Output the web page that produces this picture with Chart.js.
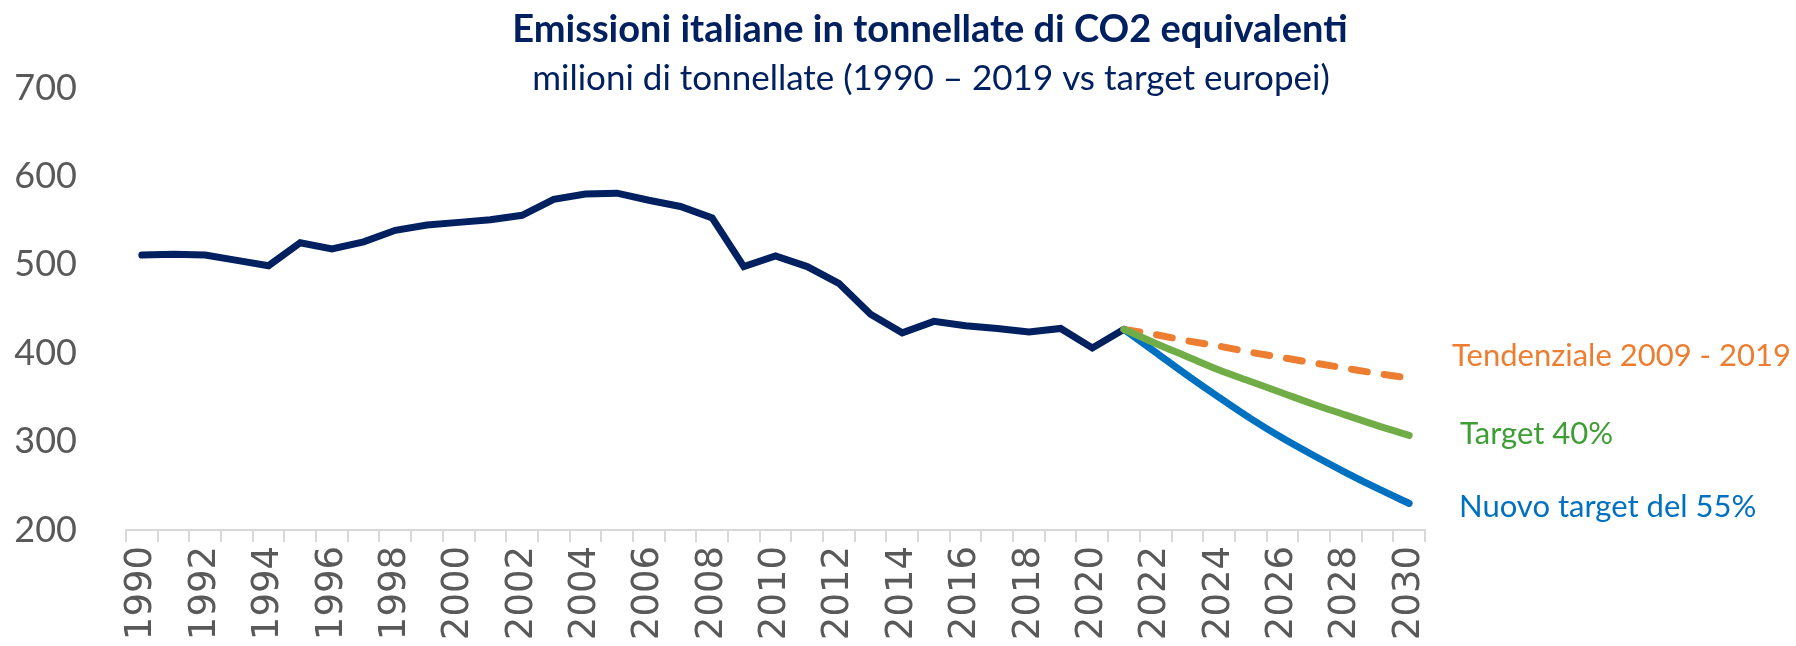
<!DOCTYPE html>
<html>
<head>
<meta charset="utf-8">
<script src="https://cdn.jsdelivr.net/npm/chart.js@4.4.1/dist/chart.umd.min.js"></script>
<style>
  html, body { margin: 0; padding: 0; background: #fff; }
  #wrap { width: 1796px; height: 646px; }
</style>
</head>
<body>
<div id="wrap"><canvas id="emissioni" width="1796" height="646"></canvas></div>
<script>
    // --- DATA ---
    const years = [];
    for (let y = 1990; y <= 2030; y++) years.push(String(y));

    // storico 1990 - 2021
    const storico = [511, 512, 511, 505, 499, 525, 518, 526, 539, 545, 548, 551, 556, 574, 580, 581,
                     573, 566, 553, 498, 510, 498, 479, 444, 423, 436, 431, 428, 424, 428, 406, 427];
    // proiezioni 2021 - 2030
    const tendenziale = [427, 421, 414, 408, 401, 395, 389, 383, 377, 372];
    const target40 = [427, 411, 396, 381, 368, 355, 342, 330, 318, 307];
    const target55 = [427, 401, 375, 350, 326, 304, 284, 265, 247, 230];
    const yTicks = [200, 300, 400, 500, 600, 700];

    const pad = (arr, start) => Array(start).fill(null).concat(arr);
    const startProj = years.indexOf('2021');

    const NAVY = '#002060';
    const GREY = '#595959';

    // --- TESTI (titolo + etichette serie) ---
    const textPlugin = {
        id: 'testi',
        afterDraw(chart) {
            const c = chart.ctx;
            c.save();
            c.textBaseline = 'middle';
            c.textAlign = 'center';
            c.fillStyle = NAVY;
            c.font = 'bold 38px Lato';
            c.fillText('Emissioni italiane in tonnellate di CO2 equivalenti', 930, 30);
            c.font = '35px Lato';
            c.fillText('milioni di tonnellate (1990 \u2013 2019 vs target europei)', 931, 79);

            c.textAlign = 'left';
            c.font = '31px Lato';
            c.fillStyle = '#ED7D31';
            c.fillText('Tendenziale 2009 - 2019', 1452, 356);
            c.fillStyle = '#3E9E35';
            c.fillText('Target 40%', 1460, 434);
            c.fillStyle = '#0070C0';
            c.fillText('Nuovo target del 55%', 1459, 507);
            c.restore();
        }
    };

    const ctx = document.getElementById('emissioni').getContext('2d');
    const chart = new Chart(ctx, {
        type: 'line',
        data: {
            labels: years,
            datasets: [
                { data: pad(target40, startProj), borderColor: '#70AD47', borderWidth: 7, tension: 0.3 },
                { data: pad(tendenziale, startProj), borderColor: '#ED7D31', borderWidth: 7, borderDash: [16, 17] },
                { data: pad(target55, startProj), borderColor: '#0070C0', borderWidth: 7, tension: 0.3 },
                { data: storico, borderColor: NAVY, borderWidth: 7 }
            ]
        },
        options: {
            responsive: false,
            animation: false,
            devicePixelRatio: 1,
            layout: { padding: { top: 88, right: 371, bottom: 0, left: 0 } },
            elements: {
                point: { radius: 0 },
                line: { borderCapStyle: 'round', borderJoinStyle: 'miter', fill: false }
            },
            scales: {
                x: {
                    offset: true,
                    grid: { display: true, offset: true, drawOnChartArea: false, drawTicks: true, tickLength: 12, color: '#D9D9D9', lineWidth: 2 },
                    border: { display: true, color: '#D9D9D9', width: 2 },
                    ticks: {
                        autoSkip: false,
                        minRotation: 90,
                        maxRotation: 90,
                        padding: 4,
                        color: GREY,
                        font: { family: 'DejaVu Sans', size: 37 },
                        callback: (v, i) => (i % 2 === 0 ? years[i] : '')
                    },
                    afterFit: (s) => { s.height = 116; }
                },
                y: {
                    min: 200,
                    max: 700,
                    afterBuildTicks: (s) => { s.ticks = yTicks.map(v => ({ value: v })); },
                    grid: { display: false, drawTicks: false },
                    border: { display: false },
                    ticks: { color: GREY, padding: 49, font: { family: 'Lato', size: 36 } },
                    afterFit: (s) => { s.width = 126; }
                }
            },
            plugins: { legend: { display: false }, tooltip: { enabled: false } }
        },
        plugins: [textPlugin]
    });
</script>
</body>
</html>
